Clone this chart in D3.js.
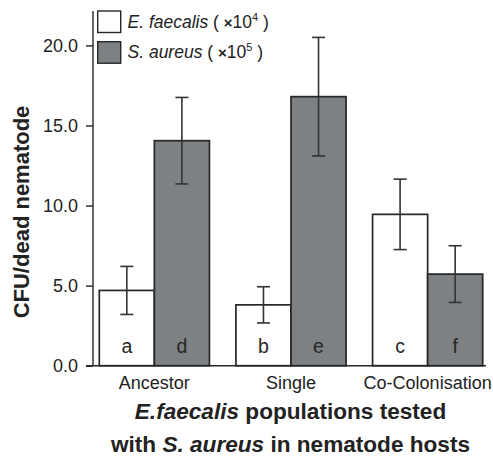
<!DOCTYPE html>
<html><head><meta charset="utf-8">
<script src="https://cdn.jsdelivr.net/npm/d3@7"></script>
<style>body{margin:0;background:#fff}svg{display:block;font-family:"Liberation Sans",Arial,sans-serif}</style>
</head><body>
<svg id="c" width="493" height="461"></svg>
<script>
const categories = ["Ancestor", "Single", "Co-Colonisation"];
const seriesNames = ["E. faecalis", "S. aureus"];
const seriesExp = ["4", "5"];
const efValues = [4.7, 3.8, 9.45];
const efErrors = [1.5, 1.13, 2.2];
const saValues = [14.05, 16.8, 5.72];
const saErrors = [2.7, 3.7, 1.77];
const efLetters = ["a", "b", "c"];
const saLetters = ["d", "e", "f"];
const yTicks = [0, 5, 10, 15, 20];

const svg = d3.select("#c");
const ink = "#262626";
const gray = "#7e8183";
const fills = ["#ffffff", gray];

const y = d3.scaleLinear().domain([0, 20]).range([365.7, 45.4]);
const x0 = d3.scaleBand().domain(categories).range([99.3, 482.7]).paddingInner(0.194).paddingOuter(0);
const x1 = d3.scaleBand().domain([0, 1]).range([0, x0.bandwidth()]);

const rows = categories.map((c, i) => [
  {cat: c, s: 0, v: efValues[i], e: efErrors[i], l: efLetters[i]},
  {cat: c, s: 1, v: saValues[i], e: saErrors[i], l: saLetters[i]}
]).flat();

// bars
svg.append("g").selectAll("rect").data(rows).join("rect")
  .attr("x", d => x0(d.cat) + x1(d.s))
  .attr("y", d => y(d.v))
  .attr("width", x1.bandwidth())
  .attr("height", d => y(0) - y(d.v))
  .attr("fill", d => fills[d.s])
  .attr("stroke", ink).attr("stroke-width", 1.7);

// letters
svg.append("g").selectAll("text").data(rows).join("text")
  .attr("x", d => x0(d.cat) + x1(d.s) + x1.bandwidth() / 2)
  .attr("y", 352.5)
  .attr("text-anchor", "middle")
  .attr("font-size", 19.5).attr("fill", ink)
  .text(d => d.l);

// error bars
const eg = svg.append("g").attr("stroke", "#333").attr("stroke-width", 1.6);
rows.forEach(d => {
  const cx = x0(d.cat) + x1(d.s) + x1.bandwidth() / 2;
  eg.append("line").attr("x1", cx).attr("x2", cx).attr("y1", y(d.v + d.e)).attr("y2", y(d.v - d.e));
  eg.append("line").attr("x1", cx - 6.5).attr("x2", cx + 6.5).attr("y1", y(d.v + d.e)).attr("y2", y(d.v + d.e));
  eg.append("line").attr("x1", cx - 6.5).attr("x2", cx + 6.5).attr("y1", y(d.v - d.e)).attr("y2", y(d.v - d.e));
});

// y axis
const ya = svg.append("g").attr("transform", "translate(93,0)")
  .call(d3.axisLeft(y).tickValues(yTicks).tickFormat(d3.format(".1f")).tickSize(7).tickPadding(8));
ya.select(".domain").remove();
ya.selectAll("line").attr("stroke", ink).attr("stroke-width", 1.4);
ya.selectAll("text").attr("font-size", 18).attr("fill", "#222").attr("font-family", "Liberation Sans, Arial, sans-serif");
svg.append("line").attr("x1", 93).attr("x2", 93).attr("y1", 11).attr("y2", y(0)).attr("stroke", ink).attr("stroke-width", 1.4);

// x axis
svg.append("line").attr("x1", 86).attr("x2", 486).attr("y1", y(0)).attr("y2", y(0)).attr("stroke", ink).attr("stroke-width", 1.6);
svg.append("g").selectAll("text").data(categories).join("text")
  .attr("x", d => x0(d) + x0.bandwidth() / 2)
  .attr("y", 389)
  .attr("text-anchor", "middle").attr("font-size", 18).attr("fill", "#222")
  .text(d => d);

// x title
const t1 = svg.append("text").attr("x", 290.5).attr("y", 419).attr("text-anchor", "middle")
  .attr("font-size", 22.6).attr("font-weight", "bold").attr("fill", "#222");
t1.append("tspan").attr("font-style", "italic").text("E.faecalis");
t1.append("tspan").text(" populations tested");
const t2 = svg.append("text").attr("x", 290.5).attr("y", 452).attr("text-anchor", "middle")
  .attr("font-size", 22.6).attr("font-weight", "bold").attr("fill", "#222");
t2.append("tspan").text("with ");
t2.append("tspan").attr("font-style", "italic").text("S. aureus");
t2.append("tspan").text(" in nematode hosts");

// y title
svg.append("text").attr("transform", "translate(29,212) rotate(-90)")
  .attr("text-anchor", "middle").attr("font-size", 22).attr("font-weight", "bold").attr("fill", "#222")
  .text("CFU/dead nematode");

// legend
const lg = svg.append("g");
seriesNames.forEach((n, i) => {
  const top = 11 + i * 30.7;
  lg.append("rect").attr("x", 97.7).attr("y", top).attr("width", 23).attr("height", 21.5)
    .attr("fill", fills[i]).attr("stroke", ink).attr("stroke-width", 1.4);
  const t = lg.append("text").attr("x", 127.5).attr("y", top + 16.5).attr("font-size", 17.5).attr("fill", "#222");
  t.append("tspan").attr("font-style", "italic").text(n);
  t.append("tspan").text(" ( ");
  t.append("tspan").attr("font-weight", "bold").attr("font-size", 15).text("×");
  t.append("tspan").text("10");
  t.append("tspan").attr("font-size", 11).attr("dy", -7).text(seriesExp[i]);
  t.append("tspan").attr("dy", 7).text(" )");
});
</script>
</body></html>
